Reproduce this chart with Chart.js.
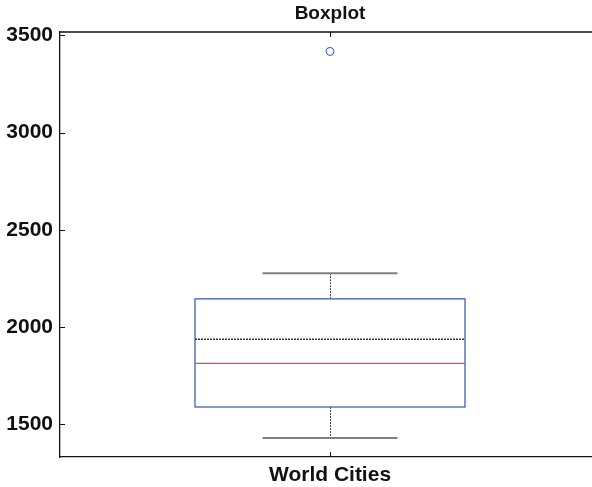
<!DOCTYPE html>
<html>
<head>
<meta charset="utf-8">
<script src="https://cdn.jsdelivr.net/npm/chart.js@4/dist/chart.umd.min.js"></script>
<style>
  html, body { margin: 0; padding: 0; background: #fff; overflow: hidden; }
  /* the axes box runs a few pixels past the visible right edge */
  #wrap { width: 592px; height: 487px; overflow: hidden; position: relative; }
  #c { position: absolute; left: 0; top: 0; }
</style>
</head>
<body>
<div id="wrap"><canvas id="c" width="600" height="487"></canvas></div>
<script>
// Group label and five-number summary (plus mean) for the distribution
const categories = ['World Cities'];
const lowerWhisker = [1430];
const quartile1 = [1589];
const medians = [1813];
const means = [1938];
const quartile3 = [2145];
const upperWhisker = [2277];
const outliers = [3417];
const yTicks = [1500, 2000, 2500, 3000, 3500];
const yRange = [1332, 3517];

const FONT = "'Liberation Sans', Arial, Helvetica, sans-serif";

// Draws box, whiskers, median and mean for each group using the chart's scales
const boxplotPlugin = {
  id: 'boxplotDraw',
  afterDatasetsDraw(chart) {
    const { ctx, scales: { x, y } } = chart;
    const catWidth = (chart.chartArea.right - chart.chartArea.left) / categories.length;
    categories.forEach((cat, i) => {
      const xc = x.getPixelForValue(i);
      const boxHalf = catWidth * 0.25;
      const capHalf = catWidth * 0.125;
      const yq1 = y.getPixelForValue(quartile1[i]);
      const yq3 = y.getPixelForValue(quartile3[i]);
      const ymed = y.getPixelForValue(medians[i]);
      const ymean = y.getPixelForValue(means[i]);
      const ylo = y.getPixelForValue(lowerWhisker[i]);
      const yhi = y.getPixelForValue(upperWhisker[i]);
      ctx.save();
      // whisker stems
      ctx.strokeStyle = '#444';
      ctx.lineWidth = 1;
      ctx.setLineDash([2, 1]);
      ctx.beginPath();
      ctx.moveTo(Math.round(xc) + 0.5, yhi); ctx.lineTo(Math.round(xc) + 0.5, yq3);
      ctx.moveTo(Math.round(xc) + 0.5, yq1); ctx.lineTo(Math.round(xc) + 0.5, ylo);
      ctx.stroke();
      // whisker caps
      ctx.setLineDash([]);
      ctx.strokeStyle = '#808080';
      ctx.lineWidth = 2;
      ctx.beginPath();
      ctx.moveTo(xc - capHalf, yhi); ctx.lineTo(xc + capHalf, yhi);
      ctx.moveTo(xc - capHalf, ylo); ctx.lineTo(xc + capHalf, ylo);
      ctx.stroke();
      // box
      ctx.strokeStyle = '#3050b0';
      ctx.lineWidth = 1.2;
      ctx.strokeRect(xc - boxHalf, yq3, boxHalf * 2, yq1 - yq3);
      // mean
      ctx.strokeStyle = '#333';
      ctx.lineWidth = 1.5;
      ctx.setLineDash([2, 1]);
      ctx.beginPath();
      ctx.moveTo(xc - boxHalf, ymean); ctx.lineTo(xc + boxHalf, ymean);
      ctx.stroke();
      // median
      ctx.setLineDash([]);
      ctx.strokeStyle = '#e04a40';
      ctx.lineWidth = 1.2;
      ctx.beginPath();
      ctx.moveTo(xc - boxHalf, ymed); ctx.lineTo(xc + boxHalf, ymed);
      ctx.stroke();
      ctx.restore();
    });
  }
};

// Axes frame: top line plus inward tick marks on left, top and bottom
const framePlugin = {
  id: 'axesFrame',
  afterDraw(chart) {
    const { ctx, chartArea: a, scales: { x, y } } = chart;
    ctx.save();
    ctx.strokeStyle = '#111';
    ctx.lineWidth = 1.3;
    ctx.beginPath();
    ctx.moveTo(a.left, a.top); ctx.lineTo(a.right, a.top);
    ctx.moveTo(a.right, a.top); ctx.lineTo(a.right, a.bottom);
    ctx.stroke();
    ctx.lineWidth = 1;
    ctx.beginPath();
    y.ticks.forEach(t => {
      const py = Math.round(y.getPixelForValue(t.value)) + 0.5;
      ctx.moveTo(a.left, py); ctx.lineTo(a.left + 5, py);
      ctx.moveTo(a.right, py); ctx.lineTo(a.right - 5, py);
    });
    categories.forEach((c, i) => {
      const px = Math.round(x.getPixelForValue(i)) + 0.5;
      ctx.moveTo(px, a.bottom); ctx.lineTo(px, a.bottom - 5);
      ctx.moveTo(px, a.top); ctx.lineTo(px, a.top + 5);
    });
    ctx.stroke();
    ctx.restore();
  }
};

new Chart(document.getElementById('c'), {
  type: 'line',
  data: {
    labels: categories,
    datasets: [{
      label: 'Outliers',
      data: outliers.map(v => ({ x: categories[0], y: v })),
      showLine: false,
      pointStyle: 'circle',
      pointRadius: 4,
      pointHoverRadius: 4,
      borderColor: '#3050c8',
      backgroundColor: 'rgba(0,0,0,0)',
      borderWidth: 1
    }]
  },
  options: {
    responsive: false,
    animation: false,
    layout: { autoPadding: false, padding: 0 },
    plugins: {
      legend: { display: false },
      tooltip: { enabled: false },
      title: {
        display: true,
        text: 'Boxplot',
        fullSize: false,
        color: '#111',
        font: { family: FONT, size: 19, weight: 'bold', lineHeight: 1.2 },
        padding: { top: 2, bottom: 7.2 }
      }
    },
    scales: {
      x: {
        type: 'category',
        offset: true,
        grid: { display: false, drawTicks: false },
        border: { display: true, color: '#111', width: 1.3 },
        ticks: {
          color: '#111',
          padding: 6,
          font: { family: FONT, size: 21, weight: 'bold' }
        },
        afterFit(s) { s.height = 30; s.paddingLeft = 0; s.paddingRight = 0; }
      },
      y: {
        min: yRange[0],
        max: yRange[1],
        grid: { display: false, drawTicks: false },
        border: { display: true, color: '#111', width: 1.3 },
        afterBuildTicks(s) { s.ticks = yTicks.map(v => ({ value: v })); },
        ticks: {
          color: '#111',
          padding: 7,
          font: { family: FONT, size: 21, weight: 'bold' },
          callback: v => String(v)
        },
        afterFit(s) { s.width = 60; s.paddingTop = 0; s.paddingBottom = 0; }
      }
    }
  },
  plugins: [boxplotPlugin, framePlugin]
});
</script>
</body>
</html>
